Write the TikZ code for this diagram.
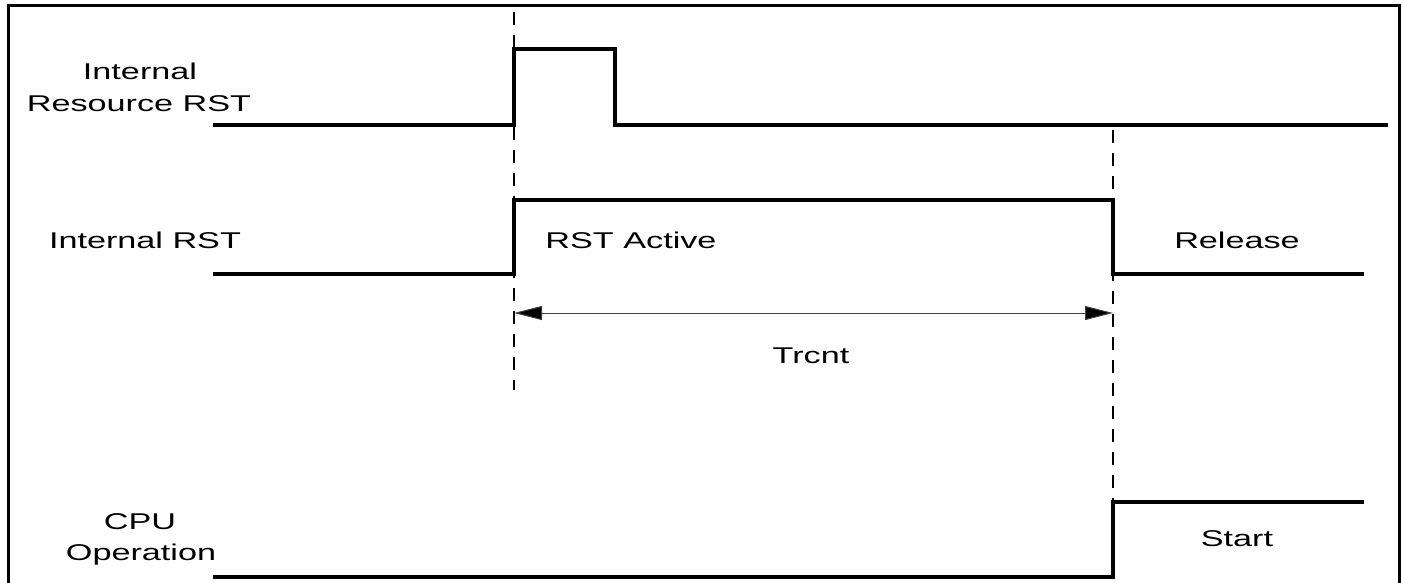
\documentclass[tikz,border=0pt]{standalone}
\usepackage{fontspec}
\newfontfamily\lblfont[FakeStretch=1.5]{Liberation Sans}
\usetikzlibrary{arrows.meta}
\tikzset{
  sig/.style={line width=3.2pt, line join=miter, line cap=butt},
  frameline/.style={line width=3pt},
  guide/.style={line width=2pt, dash pattern=on 13pt off 10pt},
  dimline/.style={line width=1pt, draw=black!75, {Triangle[length=28pt,width=14pt,fill=black]}-{Triangle[length=28pt,width=14pt,fill=black]}},
  lbl/.style={font=\lblfont\fontsize{22.8pt}{26pt}\selectfont, inner sep=0pt, text height=16pt, text depth=0pt, anchor=center}
}
\begin{document}
\begin{tikzpicture}[x=1pt,y=-1pt]
\useasboundingbox (0,0) rectangle (1403,582);
% frame
\draw[frameline] (8,590) -- (8,5) -- (1399,5) -- (1399,590);
% guide lines
\draw[guide] (514,12) -- (514,390);
\draw[guide] (1113,130) -- (1113,502);
% signals
\draw[sig] (213,125) -- (514,125) -- (514,49) -- (615,49) -- (615,125) -- (1388,125);
\draw[sig] (213,274) -- (514,274) -- (514,200) -- (1113,200) -- (1113,274) -- (1364,274);
\draw[sig] (213,577) -- (1113,577) -- (1113,502) -- (1364,502);
% dimension arrow
\coordinate (tA) at (514,313);
\coordinate (tB) at (1113,313);
\draw[dimline] (tA) -- (tB);
% labels
\node[lbl] (l1a) at (140,71) {Internal};
\node[lbl] (l1b) at (139,103) {Resource RST};
\node[lbl] (l2) at (145,240) {Internal RST};
\node[lbl] (l3a) at (140,521) {CPU};
\node[lbl] (l3b) at (141,552) {Operation};
\node[lbl] (act) at (631,240) {RST Active};
\node[lbl] (rel) at (1237,240) {Release};
\node[lbl] (trc) at (811,355) {Trcnt};
\node[lbl] (sta) at (1237,538) {Start};
\end{tikzpicture}
\end{document}
